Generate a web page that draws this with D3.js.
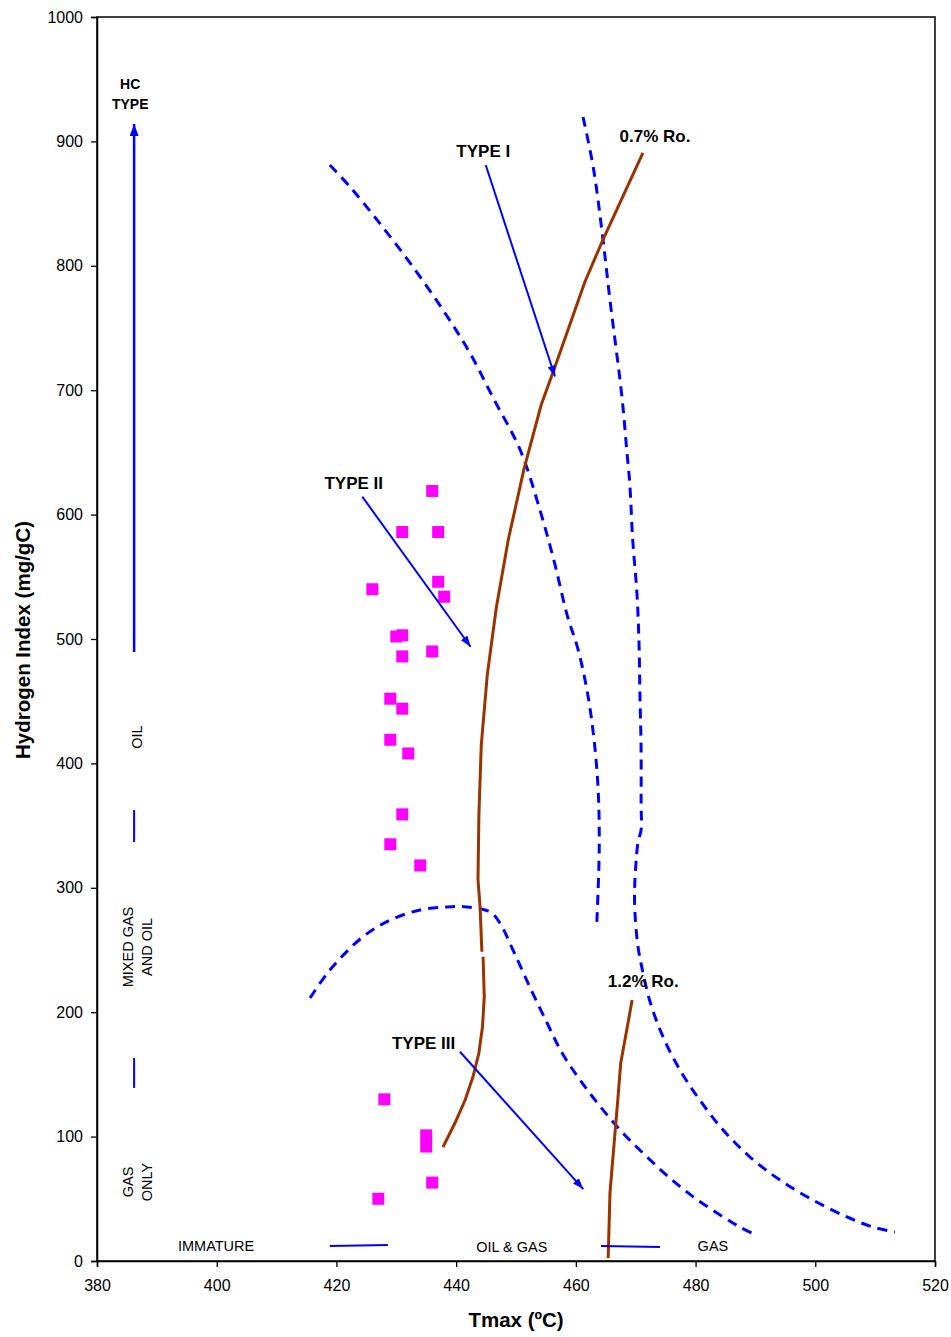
<!DOCTYPE html>
<html><head><meta charset="utf-8">
<script src="https://cdn.jsdelivr.net/npm/d3@7"></script>
<style>
body{margin:0;background:#fff;}
text{font-family:"Liberation Sans",Arial,Helvetica,sans-serif;fill:#000;}
</style>
</head><body>
<svg id="chart" width="951" height="1337"></svg>
<script>
// ---------------- data ----------------
const tmaxTicks = [380,400,420,440,460,480,500,520];
const hiTicks = [0,100,200,300,400,500,600,700,800,900,1000];

const sampleTmax = [436,431,437,426,437,438,430,431,431,436,429,431,429,432,431,429,434,428,435,435,436,427];
const sampleHI   = [619,586,586,540,546,534,502,503,486,490,452,444,419,408,359,335,318,130,101,92,63,50];

// 0.7% Ro iso-maturity line (two pieces, small break)
const ro07Upper = [[471.2,890.7],[464.5,820.7],[461.5,787.0],[456.5,718.6],[454.2,688.1],[451.3,635.9],[448.7,579.6],[446.7,524.9],[445.2,471.1],[444.2,414.8],[443.8,358.5],[443.65,306.3],[444.0,284.6],[444.3,248.6]];
const ro07Lower = [[444.5,244.6],[444.7,212.5],[444.4,188.3],[443.8,167.2],[442.8,147.9],[441.5,129.4],[439.8,110.9],[437.8,91.6]];
// 1.2% Ro iso-maturity line
const ro12 = [[469.4,209.8],[468.5,185.7],[467.5,159.2],[467.1,135.0],[466.4,94.9],[465.7,54.7],[465.4,2.4]];

// kerogen type boundaries (dashed)
const boundaryLeft = [[418.9,881.0],[422.3,863.3],[426.8,836.8],[432.3,802.3],[437.8,764.5],[442.3,729.9],[446.2,693.7],[450.7,651.9],[454.0,603.7],[456.5,560.0],[458.5,520.0],[460.4,491.0],[462.0,455.0],[463.1,416.4],[463.75,376.2],[463.9,330.4],[463.5,271.7]];
const boundaryRight = [[461.2,919.6],[462.9,879.4],[464.4,826.4],[465.7,772.5],[467.7,694.5],[468.5,651.9],[469.0,625.4],[469.5,579.6],[470.2,537.0],[470.55,496.8],[470.7,456.6],[470.9,410.8],[470.9,368.2],[470.9,346.5],[470.4,337.1],[470.0,317.0],[469.8,290.2],[470.3,255.6],[471.0,236.6],[472.4,208.4],[474.55,180.3],[477.4,153.5],[480.7,129.4],[484.6,105.3],[489.1,83.6],[494.1,65.1],[499.6,49.0],[505.3,35.4],[509.6,27.3],[513.3,23.3]];
const boundaryLower = [[415.6,211.4],[418.9,233.9],[424.4,260.5],[429.0,274.1],[434.0,282.2],[438.5,284.6],[441.8,284.6],[445.7,280.5],[447.3,271.7],[449.5,250.0],[452.3,220.3],[455.2,191.3],[457.7,167.2],[460.7,145.5],[464.0,124.6],[467.7,103.7],[471.55,85.2],[475.7,66.7],[479.9,50.6],[484.1,37.0],[487.4,27.3],[490.4,20.1]];

// ---------------- chart ----------------
const svg = d3.select("#chart");
const x = d3.scaleLinear().domain([380,520]).range([97,935]);
const y = d3.scaleLinear().domain([0,1000]).range([1261,17]);

const defs = svg.append("defs");
function marker(id, len, wid){
  defs.append("marker").attr("id",id).attr("markerUnits","userSpaceOnUse")
    .attr("viewBox",`0 0 ${len} ${wid}`).attr("refX",len).attr("refY",wid/2)
    .attr("markerWidth",len).attr("markerHeight",wid).attr("orient","auto")
    .append("path").attr("d",`M0,0L${len},${wid/2}L0,${wid}Z`).attr("fill","#0000ff");
}
marker("ahBig",12,9);
marker("ahSmall",11,8);

// frame
svg.append("rect").attr("x",x(380)).attr("y",y(1000)).attr("width",x(520)-x(380)).attr("height",y(0)-y(1000))
  .attr("fill","none").attr("stroke","#000").attr("stroke-width",1.5);

// axes
const gx = svg.append("g").attr("transform",`translate(0,${y(0)})`);
gx.call(d3.axisBottom(x).tickValues(d3.range(380,521,4)).tickSize(4).tickFormat(""));
gx.call(d3.axisBottom(x).tickValues(tmaxTicks).tickSize(6).tickPadding(13).tickFormat(d3.format("d")));
const gy = svg.append("g").attr("transform",`translate(${x(380)},0)`);
gy.call(d3.axisLeft(y).tickValues(d3.range(0,1001,20)).tickSize(4).tickFormat(""));
gy.call(d3.axisLeft(y).tickValues(hiTicks).tickSize(6).tickPadding(8).tickFormat(d3.format("d")));
svg.selectAll(".domain").attr("stroke","#000").attr("stroke-width",1.5);
svg.selectAll(".tick line").attr("stroke","#000").attr("stroke-width",1.3);
svg.selectAll(".tick text").attr("font-size",16).attr("font-family",'"Liberation Sans",Arial,sans-serif').attr("fill","#000");

// axis titles
svg.append("text").attr("x",516).attr("y",1327).attr("text-anchor","middle")
  .attr("font-size",20.5).attr("font-weight","bold").text("Tmax (ºC)");
svg.append("text").attr("transform","translate(30,640) rotate(-90)").attr("text-anchor","middle")
  .attr("font-size",20.5).attr("font-weight","bold").text("Hydrogen Index (mg/gC)");

// curves
const lineSmooth = d3.line().x(d=>x(d[0])).y(d=>y(d[1])).curve(d3.curveCatmullRom.alpha(0.5));
const lineStraight = d3.line().x(d=>x(d[0])).y(d=>y(d[1]));
[boundaryLeft,boundaryRight,boundaryLower].forEach(b=>{
  svg.append("path").attr("d",lineSmooth(b)).attr("fill","none").attr("stroke","#0000ff")
    .attr("stroke-width",3).attr("stroke-dasharray","10,7");
});
[ro07Upper,ro07Lower,ro12].forEach(c=>{
  svg.append("path").attr("d",lineStraight(c)).attr("fill","none").attr("stroke","#993300")
    .attr("stroke-width",3);
});

// samples
const sq = 12;
svg.append("g").selectAll("rect").data(sampleTmax.map((t,i)=>[t,sampleHI[i]])).join("rect")
  .attr("x",d=>x(d[0])-sq/2).attr("y",d=>y(d[1])-sq/2).attr("width",sq).attr("height",sq)
  .attr("fill","#ff00ff");

// HC type scale (left)
function seg(x1,y1,x2,y2,w,mk){
  const l = svg.append("line").attr("x1",x(x1)).attr("y1",y(y1)).attr("x2",x(x2)).attr("y2",y(y2))
    .attr("stroke","#0000ff").attr("stroke-width",w);
  if(mk) l.attr("marker-end",`url(#${mk})`);
}
seg(386.2,489.5,386.2,914.0,2.5,"ahBig");
seg(386.2,336.8,386.2,362.5,2);
seg(386.2,139.1,386.2,163.2,2);
seg(418.9,12.1,428.6,12.9,2);
seg(464.2,12.1,474.05,11.3,2);
// type arrows
seg(444.94,881.0,456.51,711.0,2,"ahSmall");
seg(424.32,614.4,442.41,493.8,2,"ahSmall");
seg(440.64,168.2,461.24,57.8,2,"ahSmall");

// labels
function lbl(tx,ty,t,size,bold,anchor){
  svg.append("text").attr("x",x(tx)).attr("y",y(ty)).attr("text-anchor",anchor||"middle")
    .attr("font-size",size).attr("font-weight",bold?"bold":"normal").text(t);
}
lbl(385.55,942.1,"HC",14,true);
lbl(385.55,926.0,"TYPE",14,true);
lbl(444.53,887.2,"TYPE I",17,true);
lbl(473.22,899.3,"0.7% Ro.",17,true);
lbl(422.9,620.3,"TYPE II",17,true);
lbl(434.56,170.4,"TYPE III",17,true);
lbl(471.26,220.0,"1.2% Ro.",17,true);
lbl(399.9,8.0,"IMMATURE",14.5,false);
lbl(449.3,7.2,"OIL & GAS",14.5,false);
lbl(482.9,8.0,"GAS",14.5,false);

function vlbl(tx,ty,t){
  svg.append("text").attr("transform",`translate(${x(tx)},${y(ty)}) rotate(-90)`)
    .attr("text-anchor","middle").attr("font-size",14.5).text(t);
}
vlbl(387.52,421.2,"OIL");
vlbl(386.0,252.4,"MIXED GAS");
vlbl(389.2,252.4,"AND OIL");
vlbl(386.0,63.5,"GAS");
vlbl(389.2,63.5,"ONLY");
</script>
</body></html>
